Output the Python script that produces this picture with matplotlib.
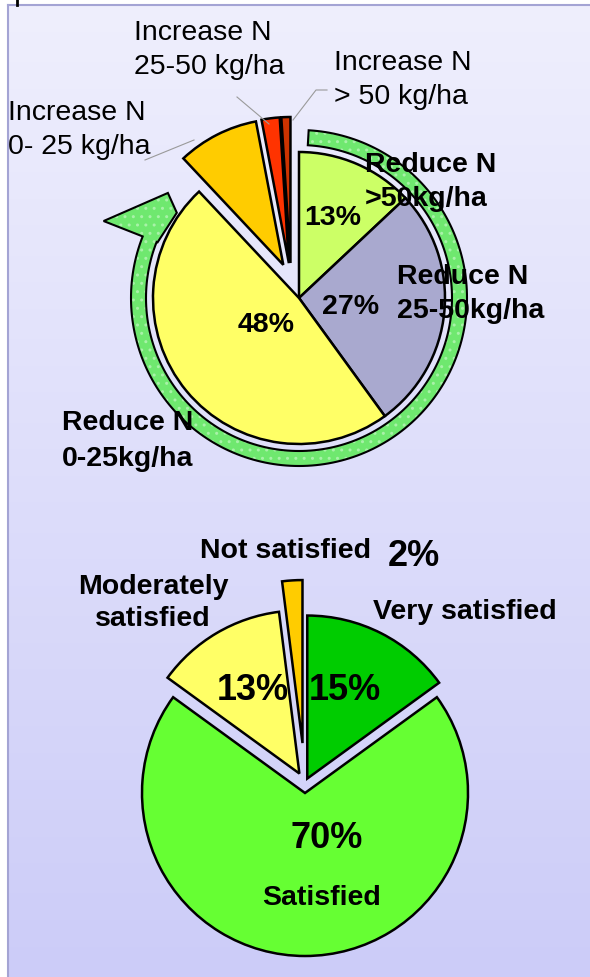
import numpy as np
import matplotlib
matplotlib.use("Agg")
import matplotlib.pyplot as plt
from matplotlib.patches import Polygon

plt.rcParams['font.family'] = ['Liberation Sans', 'DejaVu Sans']

# --- data -------------------------------------------------------------
n_labels = ["Reduce N\n>50kg/ha", "Reduce N\n25-50kg/ha", "Reduce N\n0-25kg/ha",
            "Increase N\n0- 25 kg/ha", "Increase N\n25-50 kg/ha", "Increase N\n> 50 kg/ha"]
n_values = [13, 27, 48, 9, 2, 1]
n_colors = ["#CCFF66", "#A9A9CF", "#FFFF66", "#FFCC00", "#FF3300", "#CC3300"]

sat_labels = ["Very satisfied", "Satisfied", "Moderately\nsatisfied", "Not satisfied"]
sat_values = [15, 70, 13, 2]
sat_colors = ["#00CC00", "#66FF33", "#FFFF66", "#FFCC00"]

W, H = 590, 977
fig = plt.figure(figsize=(W / 100, H / 100), dpi=100)
ax = fig.add_axes([0, 0, 1, 1])

# background box with soft vertical gradient
grad = np.linspace(0, 1, 256).reshape(-1, 1)
top_c = np.array([0.937, 0.937, 0.992])
bot_c = np.array([0.800, 0.800, 0.973])
img = top_c + (bot_c - top_c) * grad[:, :, None]
ax.imshow(img, extent=[8, W, 0, H - 5], aspect='auto', zorder=0)
ax.plot([8, 8], [0, H - 5], color="#A4A4D4", lw=1.5, zorder=0.5)
ax.plot([8, W], [H - 5, H - 5], color="#A4A4D4", lw=1.5, zorder=0.5)
ax.plot([17, 17], [H - 5, H], color="black", lw=2, zorder=0.5)

wp = dict(edgecolor="black", linewidth=1.8)

# --- top pie ----------------------------------------------------------
cx1, cy1, r1 = 299, H - 298, 146
explode1 = [0, 0, 0, 17, 17, 17]
wedges1, _ = ax.pie(n_values, colors=n_colors, startangle=90, counterclock=False,
                    center=(cx1, cy1), radius=r1, explode=explode1, wedgeprops=wp)
for w in wedges1[3:]:
    x0, y0 = w.center
    w.set_center((x0 - 8, y0 + 18))

# circular green arrow around the "reduce" part
def polar(r, a):
    a = np.radians(a)
    return np.column_stack([cx1 + r * np.cos(a), cy1 + r * np.sin(a)])

a_start, a_end = 86.7, -201.5
arc = np.linspace(a_start, a_end, 200)
pts = np.vstack([
    polar(168, arc),
    polar(np.array([210, 168, 149, 152]), np.array([a_end, -218.7, -214.9, a_end])),
    polar(153, arc[::-1]),
])
ax.add_patch(Polygon(pts, closed=True, facecolor="#6FE86F", edgecolor="none", zorder=1))
ax.add_patch(Polygon(pts, closed=True, fill=False, edgecolor="#A8F2A8", hatch="..",
                     linewidth=0, zorder=1.1))
ax.add_patch(Polygon(pts, closed=True, fill=False, edgecolor="black", linewidth=1.5, zorder=1.2))

# --- bottom pie -------------------------------------------------------
cx2, cy2, r2 = 305, H - 783, 163
explode2 = [5, 10, 11, 40]
ax.pie(sat_values, colors=sat_colors, startangle=90, counterclock=False,
       center=(cx2, cy2), radius=r2, explode=explode2, wedgeprops=wp)

# --- labels -----------------------------------------------------------
fs = 20.5
ls = 1.45
ax.text(134, H - 50, n_labels[4], fontsize=fs, ha="left", va="center", linespacing=ls)
ax.text(334, H - 80, n_labels[5], fontsize=fs, ha="left", va="center", linespacing=ls)
ax.text(8, H - 130, n_labels[3], fontsize=fs, ha="left", va="center", linespacing=ls)
lc = "#9A9A9A"
ax.plot([145, 194], [H - 160, H - 140], color=lc, lw=0.8)
ax.plot([237, 269], [H - 97, H - 124], color=lc, lw=0.8)
ax.plot([327, 316, 293], [H - 90, H - 90, H - 120], color=lc, lw=0.8)

ax.text(365, H - 182, n_labels[0], fontsize=fs, fontweight="bold", ha="left", va="center", linespacing=ls)
ax.text(397, H - 294, n_labels[1], fontsize=fs, fontweight="bold", ha="left", va="center", linespacing=ls)
ax.text(62, H - 441, n_labels[2], fontsize=fs, fontweight="bold", ha="left", va="center", linespacing=ls)

ax.text(333, H - 218, f"{n_values[0]}%", fontsize=fs, fontweight="bold", ha="center", va="center")
ax.text(351, H - 307, f"{n_values[1]}%", fontsize=fs, fontweight="bold", ha="center", va="center")
ax.text(266, H - 325, f"{n_values[2]}%", fontsize=fs, fontweight="bold", ha="center", va="center")

big = 26
ax.text(200, H - 551, sat_labels[3], fontsize=fs, fontweight="bold", ha="left", va="center")
ax.text(388, H - 557, f"{sat_values[3]}%", fontsize=big, fontweight="bold", ha="left", va="center")
ax.text(153, H - 603, sat_labels[2], fontsize=fs, fontweight="bold", ha="center", va="center",
        multialignment="center", linespacing=1.3)
ax.text(373, H - 612, sat_labels[0], fontsize=fs, fontweight="bold", ha="left", va="center")
ax.text(253, H - 690, f"{sat_values[2]}%", fontsize=big, fontweight="bold", ha="center", va="center")
ax.text(345, H - 690, f"{sat_values[0]}%", fontsize=big, fontweight="bold", ha="center", va="center")
ax.text(327, H - 838, f"{sat_values[1]}%", fontsize=big, fontweight="bold", ha="center", va="center")
ax.text(322, H - 898, sat_labels[1], fontsize=fs, fontweight="bold", ha="center", va="center")

ax.set_xlim(0, W)
ax.set_ylim(0, H)
ax.set_aspect("auto")
ax.axis("off")

fig.savefig("out.png", dpi=100)
